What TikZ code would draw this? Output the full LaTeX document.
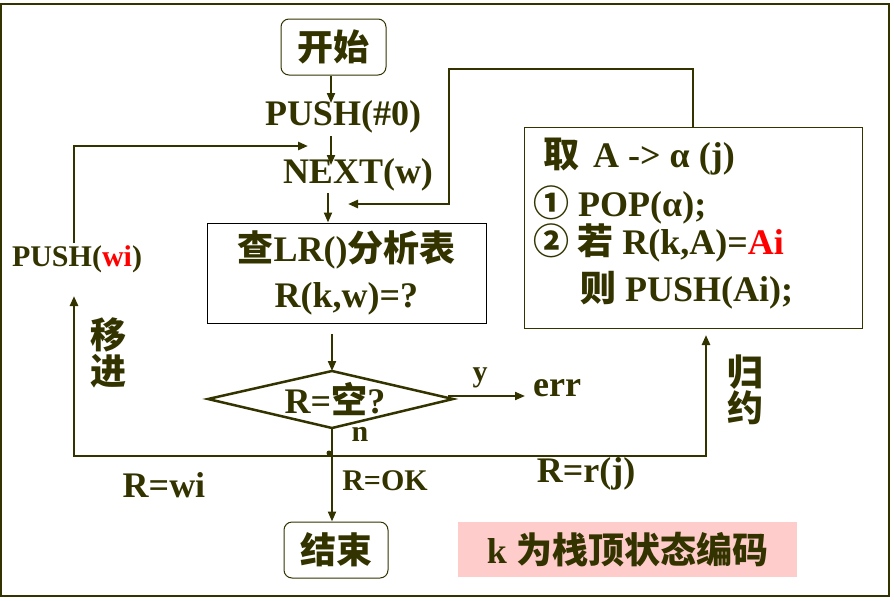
\documentclass[tikz,border=0pt]{standalone}
\usepackage{fontspec}
\setmainfont{Liberation Serif}
\newfontfamily\cjk{Noto Sans CJK SC}
\usetikzlibrary{arrows.meta}
\definecolor{dkolive}{RGB}{51,51,0}
\definecolor{pinkbg}{RGB}{255,204,204}
\newcommand{\zh}[1]{{\cjk #1}}
\tikzset{
  lbl/.style={inner sep=0pt, text=dkolive, font=\bfseries\fontsize{36}{46}\selectfont},
  lblsm/.style={inner sep=0pt, text=dkolive, font=\bfseries\fontsize{30}{36}\selectfont},
  conn/.style={draw=dkolive, line width=2.5pt},
  arr/.style={conn, -{Triangle[length=10pt,width=8pt]}},
  arrthin/.style={draw=dkolive, line width=2pt, -{Triangle[length=10pt,width=8pt]}},
  term/.style={draw=dkolive, line width=1pt, rounded corners=8pt, minimum width=105pt, minimum height=56pt, inner sep=0pt, lbl},
  procbox/.style={line width=1pt, inner sep=0pt},
}
\begin{document}
\begin{tikzpicture}[x=1pt,y=-1pt]
\useasboundingbox (0,0) rectangle (894,600);
\draw[dkolive, line width=2pt] (1,4) rectangle (889,596);

% terminals
\node[term] (start) at (333.5,47) {\zh{开始}};
\node[term, minimum width=104pt] (stop) at (336,550) {\zh{结束}};

% steps
\node[lbl] (push0) at (343,117) {PUSH(\#0)};
\node[lbl] (next) at (358,175) {NEXT(w)};
\node[procbox, draw=black, minimum width=279pt, minimum height=100pt, lbl, align=center] (box1) at (346.5,273) {\zh{查}LR()\zh{分析表}\\R(k,w)=?};

% reduce box
\node[procbox, draw=dkolive, minimum width=338pt, minimum height=201pt] (box2) at (693,227.5) {};
\node[lbl, anchor=west] (r1) at (543,157) {\zh{取}\hspace{14pt}A -> α (j)};
\node[lbl, anchor=west] (r2) at (533,205) {\zh{①} POP(α);};
\node[lbl, anchor=west] (r3) at (533,243) {\zh{② 若} R(k,A)=\textcolor{red}{Ai}};
\node[lbl, anchor=west] (r4) at (580,290) {\zh{则} PUSH(Ai);};

% diamond
\coordinate (dl) at (208,399);
\coordinate (dt) at (332,371);
\coordinate (dr) at (453,399);
\coordinate (db) at (332,428);
\draw[conn, line join=miter] (dl) -- (dt) -- (dr) -- (db) -- cycle;
\node[lbl] (dtext) at (335,399) {R=\zh{空}?};

% labels
\node[lblsm] (pushwi) at (77,259) {PUSH(\textcolor{red}{wi})};
\node[lbl, align=center] (shift) at (108,353) {\zh{移}\\[-10pt]\zh{进}};
\node[lbl, align=center] (reduce) at (745,390) {\zh{归}\\[-10pt]\zh{约}};
\node[lbl] (rwi) at (164,485) {R=wi};
\node[lblsm] (rok) at (385,481) {R=OK};
\node[lbl] (rrj) at (586,474) {R=r(j)};
\node[lblsm] (ylab) at (480,378) {y};
\node[lbl] (err) at (557,388) {err};
\node[lblsm] (nlab) at (360,434) {n};

% note
\node[fill=pinkbg, minimum width=339pt, minimum height=55pt, lbl] (note) at (627.5,549.5) {k \zh{为栈顶状态编码}};

% connectors
\coordinate (nextin) at (308,146);
\coordinate (loopin) at (348,204);
\coordinate (rtop) at (449,69);
\coordinate (lT) at (74,243);
\coordinate (lU) at (74,296);
\coordinate (rU) at (706,335);
\coordinate (j) at (332,456);
\coordinate (b1out) at (332,334);
\coordinate (errin) at (525,396);
\coordinate (yout) at (448,396);

\draw[arrthin] (start.south -| 331,0) -- (331,103);
\draw[arrthin] (331,136) -- (331,165);
\draw[arrthin] (328,193) -- (box1.north -| 328,0);
\draw[arrthin] (b1out) -- (dt);
\draw[arrthin] (yout) -- (errin);
\draw[conn] (db) -- (j);
\draw[arrthin] (j) -- (j |- stop.north);
\draw[arr] (j) -| (lU);
\draw[arr] (j) -| (rU);
\draw[arr] (lT) |- (nextin);
\draw[arr] (box2.north) |- (rtop) |- (loopin);
\fill[dkolive] (329,453) circle (2.5pt);
\end{tikzpicture}
\end{document}
